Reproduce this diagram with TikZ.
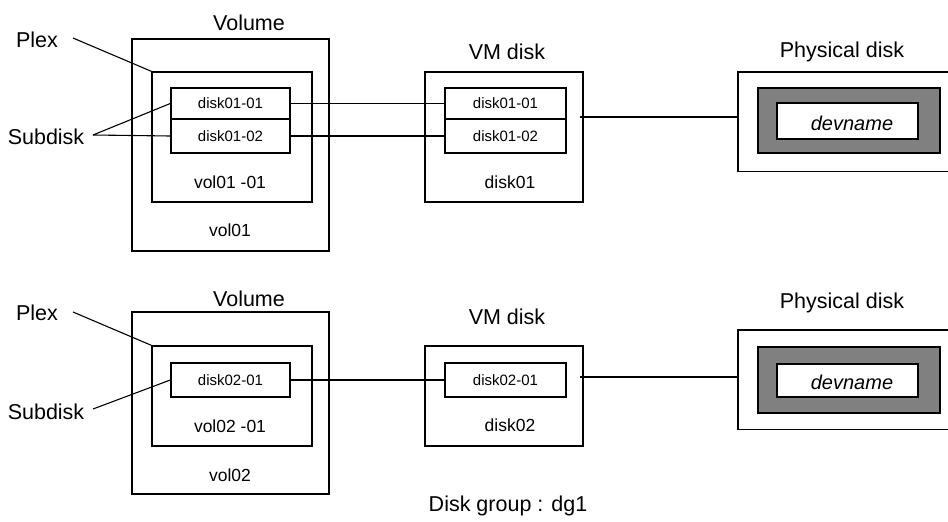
\documentclass[tikz,border=0pt]{standalone}
\usepackage{fontspec}
\setmainfont{Liberation Sans}
\begin{document}
\begin{tikzpicture}[x=1pt,y=-1pt,
  box/.style={draw=black, line width=1.4pt, inner sep=0pt, rectangle, fill=white},
  openbox/.style={draw=none, inner sep=0pt, rectangle, fill=white},
  graybox/.style={draw=black, line width=1.4pt, inner sep=0pt, rectangle, fill=gray},
  lbl/.style={inner sep=0pt, font=\fontsize{21.5}{24}\selectfont},
  mid/.style={inner sep=0pt, font=\fontsize{17.5}{20}\selectfont},
  small/.style={inner sep=0pt, font=\fontsize{15}{17}\selectfont},
  dev/.style={inner sep=0pt, font=\fontsize{20}{23}\selectfont\itshape},
  conn/.style={line width=1.4pt},
  edge/.style={line width=1.4pt},
  lead/.style={line width=1.1pt}]
\useasboundingbox (0,0) rectangle (948,522);
\clip (0,0) rectangle (948,522);
\fill[white] (0,0) rectangle (948,522);

% ---------- top row ----------
\node[box, minimum width=197, minimum height=212] (vol1) at (230.5,145) {};
\node[box, minimum width=160, minimum height=130] (plex1) at (232,137) {};
\node[box, minimum width=119, minimum height=31] (sd1a) at (230.5,103.5) {};
\node[box, minimum width=119, minimum height=34] (sd1b) at (230.5,136) {};
\node[small] (sd1at) at (sd1a) {disk01-01};
\node[small] (sd1bt) at (sd1b) {disk01-02};
\node[mid] (pl1t) at (230,182) {vol01 -01};
\node[mid] (vo1t) at (230,230) {vol01};
\node[lbl] (vol1l) at (249,23) {Volume};

\node[box, minimum width=158, minimum height=130] (vm1) at (504,137) {};
\node[box, minimum width=121, minimum height=31] (vd1a) at (505.5,103.5) {};
\node[box, minimum width=121, minimum height=34] (vd1b) at (505.5,136) {};
\node[small] (vd1at) at (vd1a) {disk01-01};
\node[small] (vd1bt) at (vd1b) {disk01-02};
\node[mid] (vm1t) at (510,182) {disk01};
\node[lbl] (vm1l) at (507,52) {VM disk};

\node[openbox, minimum width=240, minimum height=99] (pd1) at (858,121.5) {};
\draw[edge] (pd1.north east) -- (pd1.north west) -- (pd1.south west) -- (pd1.south east);
\node[graybox, minimum width=182, minimum height=65] (g1) at (849,120.5) {};
\node[box, minimum width=141, minimum height=36] (w1) at (847.5,121) {};
\node[dev] (dev1) at (852,123) {devname};
\node[lbl] (pd1l) at (842,52) {Physical disk};

\node[lbl] (plexl1) at (37,40) {Plex};
\node[lbl] (subl1) at (46,137) {Subdisk};
\coordinate (plexc1) at (73,38);
\coordinate (subc1) at (93,135);
\draw[lead] (plexc1) -- (plex1.north west);
\draw[lead] (subc1) -- (sd1a.west);
\draw[lead] (subc1) -- (sd1b.west);

\draw[conn] (sd1a.east) -- (vd1a.west);
\draw[conn] (sd1b.east) -- (vd1b.west);
\coordinate (vm1out) at (580,117);
\draw[conn] (vm1out) -- (pd1.west |- vm1out);

% ---------- bottom row ----------
\node[box, minimum width=197, minimum height=182] (vol2) at (230.5,403) {};
\node[box, minimum width=160, minimum height=100] (plex2) at (232,396) {};
\node[box, minimum width=119, minimum height=34] (sd2) at (230.5,380) {};
\node[small] (sd2t) at (sd2) {disk02-01};
\node[mid] (pl2t) at (230,426) {vol02 -01};
\node[mid] (vo2t) at (230,475) {vol02};
\node[lbl] (vol2l) at (249,299) {Volume};

\node[box, minimum width=158, minimum height=100] (vm2) at (504,396) {};
\node[box, minimum width=121, minimum height=34] (vd2) at (505.5,380) {};
\node[small] (vd2t) at (vd2) {disk02-01};
\node[mid] (vm2t) at (510,425) {disk02};
\node[lbl] (vm2l) at (507,317) {VM disk};

\node[openbox, minimum width=240, minimum height=99] (pd2) at (858,379.5) {};
\draw[edge] (pd2.north east) -- (pd2.north west) -- (pd2.south west) -- (pd2.south east);
\node[graybox, minimum width=182, minimum height=66] (g2) at (849,380) {};
\node[box, minimum width=141, minimum height=33] (w2) at (847.5,380.5) {};
\node[dev] (dev2) at (852,382) {devname};
\node[lbl] (pd2l) at (842,303) {Physical disk};

\node[lbl] (plexl2) at (37,313) {Plex};
\node[lbl] (subl2) at (46,412) {Subdisk};
\coordinate (plexc2) at (73,312);
\coordinate (subc2) at (93,409);
\draw[lead] (plexc2) -- (plex2.north west);
\draw[lead] (subc2) -- (sd2.west);

\draw[conn] (sd2.east) -- (vd2.west);
\coordinate (vm2out) at (580,377);
\draw[conn] (vm2out) -- (pd2.west |- vm2out);

\node[lbl] (dg) at (508,506) {Disk group : dg1};
\end{tikzpicture}
\end{document}
